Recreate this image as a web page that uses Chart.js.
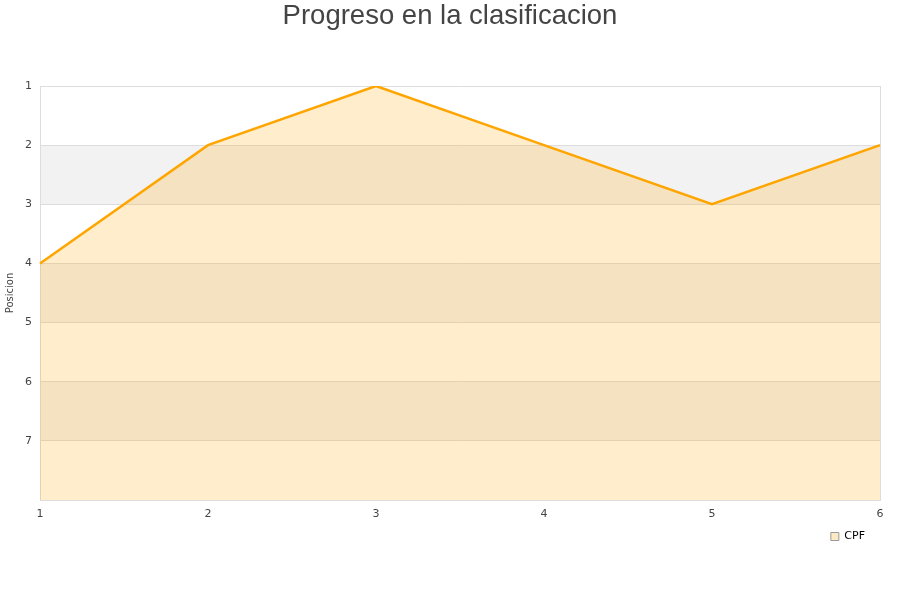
<!DOCTYPE html>
<html><head><meta charset="utf-8">
<script src="https://cdn.jsdelivr.net/npm/chart.js@4/dist/chart.umd.min.js"></script>
<style>html,body{margin:0;padding:0;background:#fff}#wrap{width:900px;height:600px}</style>
</head><body><div id="wrap"><canvas id="c" width="900" height="600"></canvas></div>
<script>
const rounds = ['1','2','3','4','5','6'];
const positions = [4, 2, 1, 2, 3, 2];
const seriesName = 'CPF';
const chartTitle = 'Progreso en la clasificacion';
const yTitle = 'Posicion';

const bands = {
  id: 'bands',
  afterLayout(chart) {
    const tb = chart.titleBlock;
    if (tb) { tb.left = 0; tb.right = chart.width; tb.width = chart.width; }
    const lg = chart.legend;
    if (lg) { lg.right -= 5; }
  },
  beforeDraw(chart) {
    const {ctx, chartArea: a, scales: {y}} = chart;
    ctx.save();
    ctx.fillStyle = '#f2f2f2';
    for (let v = 2; v < 8; v += 2) {
      const t = y.getPixelForValue(v), b = y.getPixelForValue(v + 1);
      ctx.fillRect(a.left, t, a.right - a.left, b - t);
    }
    ctx.restore();
  }
};

new Chart(document.getElementById('c'), {
  type: 'line',
  data: {
    labels: rounds,
    datasets: [{
      label: seriesName,
      data: positions,
      borderColor: '#ffa500',
      backgroundColor: 'rgba(255,165,0,0.2)',
      borderWidth: 2.5,
      pointRadius: 0,
      tension: 0,
      fill: {value: 8}
    }]
  },
  options: {
    responsive: false,
    animation: false,
    devicePixelRatio: 1,
    layout: {padding: {left: 0, right: 20, top: 0, bottom: 48}},
    plugins: {
      title: {
        display: true, text: chartTitle, color: '#444',
        font: {family: 'Liberation Sans', size: 27.5, weight: 'normal'},
        padding: {top: 0, bottom: 53}
      },
      legend: {
        position: 'bottom', align: 'end',
        labels: {
          color: '#222', font: {family: 'DejaVu Sans', size: 11},
          boxWidth: 8, boxHeight: 8, padding: 10,
          generateLabels(chart) {
            return chart.data.datasets.map((d, i) => ({
              text: d.label, fillStyle: '#fde9c4', strokeStyle: '#999',
              lineWidth: 1, hidden: false, datasetIndex: i
            }));
          }
        }
      },
      tooltip: {enabled: false}
    },
    scales: {
      x: {
        type: 'category', offset: false,
        grid: {color: c => (c.index === 0 || c.index === rounds.length - 1) ? '#ddd' : 'transparent', drawTicks: false},
        border: {color: '#ddd'},
        ticks: {color: '#444', font: {family: 'DejaVu Sans', size: 11}, padding: 8, maxRotation: 0},
        afterFit(s) { s.height = 21; }
      },
      y: {
        min: 1, max: 8, reverse: true,
        grid: {color: '#ddd', drawTicks: false},
        border: {color: '#ddd'},
        ticks: {stepSize: 1, color: '#444', font: {family: 'DejaVu Sans', size: 11}, padding: 8,
          callback: v => v === 8 ? '' : String(v)},
        title: {display: true, text: yTitle, color: '#444', font: {family: 'DejaVu Sans', size: 10}, padding: {top: 4, bottom: 0}},
        afterFit(s) { s.width = 40; }
      }
    }
  },
  plugins: [bands]
});
</script></body></html>
